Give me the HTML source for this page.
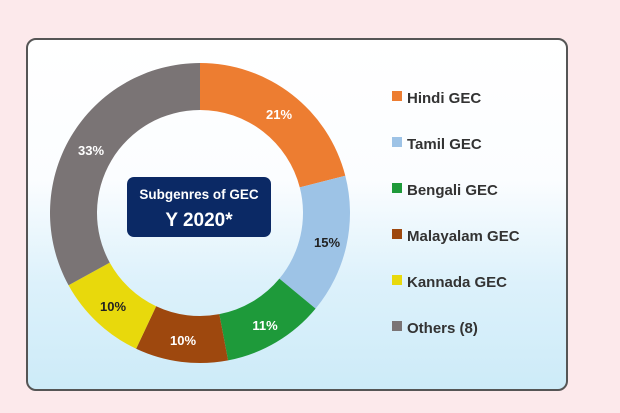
<!DOCTYPE html>
<html><head><style>
body{margin:0;width:620px;height:413px;background:#fce9eb;overflow:hidden;font-family:"Liberation Sans",sans-serif}
.box{position:absolute;left:26px;top:38px;width:538px;height:349px;border:2px solid #555;border-radius:10px;background:linear-gradient(#ffffff 0%,#fbfdff 40%,#dcf1fb 70%,#cdebf8 100%)}
svg{position:absolute;left:0;top:0}
</style></head><body>
<div class="box"></div>
<svg width="620" height="413" font-family="Liberation Sans, sans-serif" font-weight="bold">
<g id="d"></g>
<rect x="127" y="177" width="144" height="60" rx="7" fill="#0b2965"/>
<text x="199" y="199" fill="#fff" font-size="13.5" text-anchor="middle">Subgenres of GEC</text>
<text x="199" y="226" fill="#fff" font-size="19" text-anchor="middle">Y 2020*</text>
<g font-size="13">
<text x="279" y="119" fill="#fff" text-anchor="middle">21%</text>
<text x="327" y="247" fill="#222" text-anchor="middle">15%</text>
<text x="265" y="330" fill="#fff" text-anchor="middle">11%</text>
<text x="183" y="345" fill="#fff" text-anchor="middle">10%</text>
<text x="113" y="311" fill="#222" text-anchor="middle">10%</text>
<text x="91" y="155" fill="#fff" text-anchor="middle">33%</text>
</g>
<g font-size="15" fill="#333" font-weight="normal" style="font-weight:600">
<rect x="392" y="91" width="10" height="10" fill="#ed7d31"/><text x="407" y="103">Hindi GEC</text>
<rect x="392" y="137" width="10" height="10" fill="#9dc3e6"/><text x="407" y="149">Tamil GEC</text>
<rect x="392" y="183" width="10" height="10" fill="#1e9a3a"/><text x="407" y="195">Bengali GEC</text>
<rect x="392" y="229" width="10" height="10" fill="#9e480e"/><text x="407" y="241">Malayalam GEC</text>
<rect x="392" y="275" width="10" height="10" fill="#e8d90c"/><text x="407" y="287">Kannada GEC</text>
<rect x="392" y="321" width="10" height="10" fill="#7a7475"/><text x="407" y="333">Others (8)</text>
</g>
</svg>
<script>
var cx=200,cy=213,R=150,r=103,vals=[21,15,11,10,10,33],cols=["#ed7d31","#9dc3e6","#1e9a3a","#9e480e","#e8d90c","#7a7475"];
var a=0,s="";
function p(rad,t){return [cx+rad*Math.sin(t),cy-rad*Math.cos(t)];}
vals.forEach(function(v,i){var b=a+v/100*2*Math.PI;var l=(b-a)>Math.PI?1:0;
var A=p(R,a),B=p(R,b),C=p(r,b),D=p(r,a);
s+='<path d="M'+A+' A'+R+' '+R+' 0 '+l+' 1 '+B+' L'+C+' A'+r+' '+r+' 0 '+l+' 0 '+D+'Z" fill="'+cols[i]+'"/>';a=b;});
document.getElementById("d").innerHTML=s;
</script>
</body></html>
